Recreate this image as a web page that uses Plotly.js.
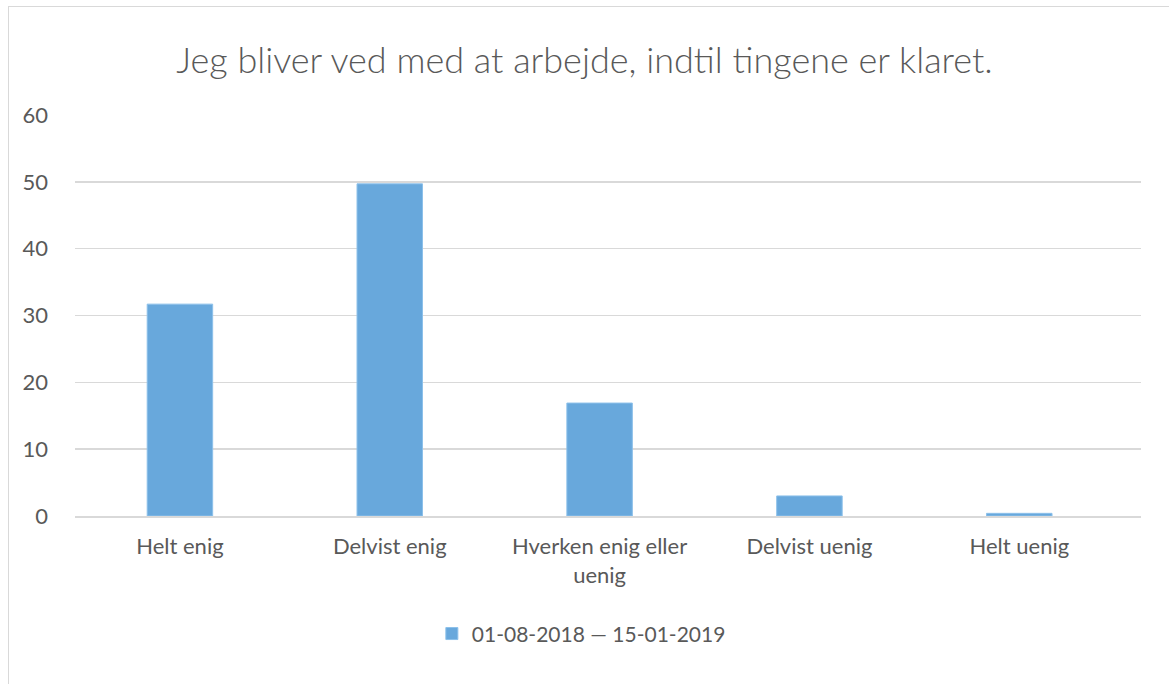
<!DOCTYPE html>
<html>
<head>
<meta charset="utf-8">
<script src="https://cdn.plot.ly/plotly-3.0.1.min.js"></script>
<style>
html,body{margin:0;padding:0;background:#fff;}
#chart{position:absolute;left:0;top:0;width:1169px;height:684px;}
#frame{position:absolute;left:8px;top:6px;width:1180px;height:700px;border:1.5px solid #d9d9d9;pointer-events:none;}
</style>
</head>
<body>
<div id="chart"></div>
<div id="frame"></div>
<script>
const chartTitle = "Jeg bliver ved med at arbejde, indtil tingene er klaret.";
const categories = ["Helt enig", "Delvist enig", "Hverken enig eller<br>uenig", "Delvist uenig", "Helt uenig"];
const seriesName = "01-08-2018 — 15-01-2019";
const values = [31.7, 49.7, 16.9, 3.0, 0.4];
const yTicks = [0, 10, 20, 30, 40, 50, 60];

const FONT = "Lato, 'Open Sans', sans-serif";
const GREY = "#595959";

const trace = {
  type: "bar",
  x: categories.map((c, i) => i),
  y: values,
  name: seriesName,
  width: 0.312,
  marker: {color: "#68a8dc", line: {color: "#8cc0ea", width: 1}},
  showlegend: true,
  hoverinfo: "y"
};

const layout = {
  width: 1169, height: 684,
  paper_bgcolor: "#fff", plot_bgcolor: "#fff",
  margin: {l: 75, r: 28, t: 115, b: 168},
  font: {family: FONT, color: GREY},
  title: {text: chartTitle, font: {family: FONT, size: 36, color: GREY, weight: 300}, x: 0.5, xanchor: "center", y: 0.912, yanchor: "middle"},
  xaxis: {
    range: [-0.5, 4.58],
    tickmode: "array",
    tickvals: categories.map((c, i) => i),
    ticktext: categories,
    tickfont: {family: FONT, size: 22, color: GREY},
    showgrid: false, zeroline: false,
    showline: true, linecolor: "#d9d9d9", linewidth: 1.5,
    ticks: "", ticklabelstandoff: 10,
    fixedrange: true
  },
  yaxis: {
    range: [0, 60],
    tickmode: "array",
    tickvals: yTicks,
    tickfont: {family: FONT, size: 22, color: GREY},
    showgrid: true, gridcolor: "#d9d9d9", gridwidth: 1.5,
    zeroline: false, showline: false, ticks: "",
    ticklabelstandoff: 26,
    fixedrange: true
  },
  legend: {
    orientation: "h", x: 0.475, xanchor: "center", y: -0.294, yanchor: "middle",
    font: {family: FONT, size: 21, color: GREY},
    itemwidth: 30
  },
  bargap: 0.69
};

Plotly.newPlot("chart", [trace], layout, {displayModeBar: false, staticPlot: true});
</script>
</body>
</html>
